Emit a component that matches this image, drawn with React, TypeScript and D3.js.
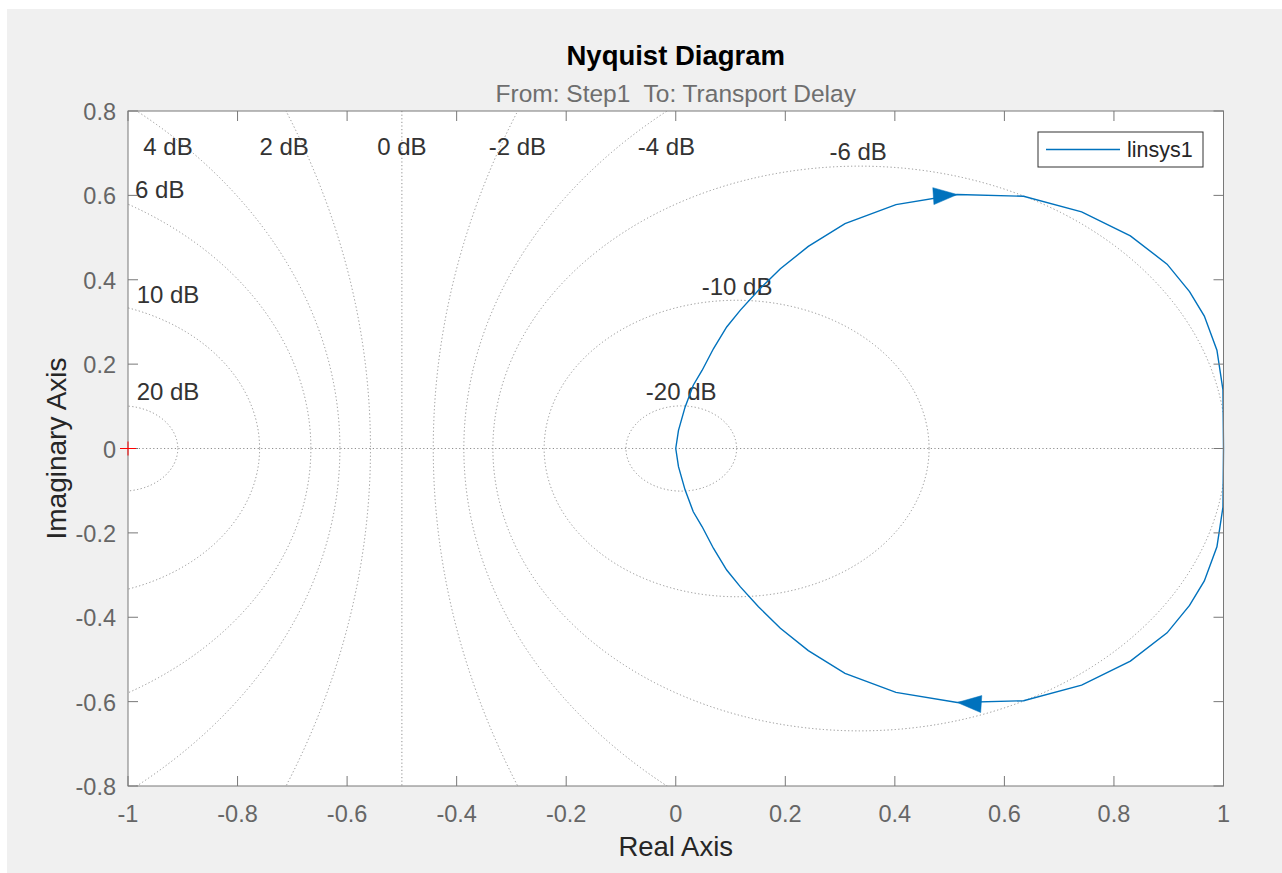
import { useRef, useEffect } from "react";
import * as d3 from "d3";

const xTicks = [-1, -0.8, -0.6, -0.4, -0.2, 0, 0.2, 0.4, 0.6, 0.8, 1];
const yTicks = [-0.8, -0.6, -0.4, -0.2, 0, 0.2, 0.4, 0.6, 0.8];
const xTickLabels = ["-1", "-0.8", "-0.6", "-0.4", "-0.2", "0", "0.2", "0.4", "0.6", "0.8", "1"];
const yTickLabels = ["-0.8", "-0.6", "-0.4", "-0.2", "0", "0.2", "0.4", "0.6", "0.8"];

// constant closed-loop magnitude contours (M-circles)
const gridDb = [20, 10, 6, 4, 2, 0, -2, -4, -6, -10, -20];
const gridLabels = ["20 dB", "10 dB", "6 dB", "4 dB", "2 dB", "0 dB", "-2 dB", "-4 dB", "-6 dB", "-10 dB", "-20 dB"];
const gridLabelRe = [-0.927, -0.927, -0.942, -0.927, -0.715, -0.5, -0.289, -0.017, 0.333, 0.112, 0.01];
const gridLabelIm = [0.134, 0.366, 0.613, 0.717, 0.717, 0.717, 0.717, 0.717, 0.703, 0.385, 0.136];

// linsys1 response, upper half (origin -> 1), lower half is its mirror
const upperRe = [0.0, 0.005, 0.017, 0.032, 0.048, 0.069, 0.093, 0.118, 0.151, 0.191, 0.242, 0.309, 0.402, 0.514, 0.635, 0.741, 0.83, 0.897, 0.938, 0.965, 0.988, 0.999, 1.0];
const upperIm = [0.0, 0.043, 0.098, 0.15, 0.185, 0.237, 0.288, 0.328, 0.375, 0.426, 0.479, 0.533, 0.578, 0.602, 0.598, 0.561, 0.504, 0.437, 0.372, 0.314, 0.233, 0.139, 0.0];
const arrowIndex = 13;

const seriesName = "linsys1";
const blue = "#0072bd";

export default function App() {
  const svgRef = useRef<SVGSVGElement>(null);

  useEffect(() => {
    if (!svgRef.current) return;
    const svg = d3.select(svgRef.current);
    svg.selectAll("*").remove();

    const width = 1282;
    const height = 873;
    const left = 128;
    const right = 1223.5;
    const top = 111;
    const bottom = 786;
    const font = "'Liberation Sans', Arial, Helvetica, sans-serif";
    const axisColor = "#787878";

    const x = d3.scaleLinear().domain([-1, 1]).range([left, right]);
    const y = d3.scaleLinear().domain([-0.8, 0.8]).range([bottom, top]);

    // figure background
    svg.append("rect").attr("x", 7).attr("y", 9).attr("width", width - 7).attr("height", height - 9).attr("fill", "#f0f0f0");

    svg.append("rect").attr("x", left).attr("y", top).attr("width", right - left).attr("height", bottom - top).attr("fill", "#ffffff");

    svg.append("defs").append("clipPath").attr("id", "plotClip")
      .append("rect").attr("x", left).attr("y", top).attr("width", right - left).attr("height", bottom - top);

    const grid = svg.append("g").attr("clip-path", "url(#plotClip)");
    const dotted = (sel: any) =>
      sel.attr("fill", "none").attr("stroke", "#8f8f8f").attr("stroke-width", 1).attr("stroke-dasharray", "1.2,2.4");

    gridDb.forEach((db) => {
      const m = Math.pow(10, db / 20);
      if (db === 0) {
        grid.append("line").attr("x1", x(-0.5)).attr("x2", x(-0.5)).attr("y1", top).attr("y2", bottom).call(dotted);
        return;
      }
      const c = -(m * m) / (m * m - 1);
      const r = Math.abs(m / (m * m - 1));
      grid.append("ellipse")
        .attr("cx", x(c)).attr("cy", y(0))
        .attr("rx", x(c + r) - x(c)).attr("ry", y(0) - y(r))
        .call(dotted);
    });
    grid.append("line").attr("x1", left).attr("x2", right).attr("y1", y(0)).attr("y2", y(0)).call(dotted);

    // dB labels
    svg.append("g").selectAll("text").data(gridLabels).join("text")
      .attr("x", (_, i) => x(gridLabelRe[i]))
      .attr("y", (_, i) => y(gridLabelIm[i]))
      .attr("text-anchor", "middle")
      .attr("dominant-baseline", "central")
      .attr("font-family", font).attr("font-size", "24px").attr("fill", "#333333")
      .text((d) => d);

    // Nyquist curve
    const pts: [number, number][] = upperRe.map((r, i) => [r, upperIm[i]]);
    const lower: [number, number][] = pts.slice().reverse().map(([r, im]) => [r, -im]);
    const all = pts.concat(lower.slice(1));
    const line = d3.line<[number, number]>().x((d) => x(d[0])).y((d) => y(d[1]));
    svg.append("path").datum(all).attr("d", line).attr("fill", "none").attr("stroke", blue).attr("stroke-width", 1.4);

    // direction arrows
    const arrow = (tip: [number, number], from: [number, number], to: [number, number]) => {
      const tx = x(tip[0]), ty = y(tip[1]);
      let dx = x(to[0]) - x(from[0]);
      let dy = y(to[1]) - y(from[1]);
      const len = Math.hypot(dx, dy);
      dx /= len; dy /= len;
      const bx = tx - dx * 24, by = ty - dy * 24;
      const px = -dy * 8.5, py = dx * 8.5;
      svg.append("path")
        .attr("d", `M${tx},${ty}L${bx + px},${by + py}L${bx - px},${by - py}Z`)
        .attr("fill", blue).attr("stroke", blue).attr("stroke-width", 0.5);
    };
    const a = pts[arrowIndex], aPrev = pts[arrowIndex - 1], aNext = pts[arrowIndex + 1];
    arrow(a, aPrev, aNext);
    arrow([a[0], -a[1]], [aNext[0], -aNext[1]], [aPrev[0], -aPrev[1]]);

    // axes box and ticks
    svg.append("rect").attr("x", left).attr("y", top).attr("width", right - left).attr("height", bottom - top)
      .attr("fill", "none").attr("stroke", axisColor).attr("stroke-width", 1);
    const ticks = svg.append("g").attr("stroke", axisColor).attr("stroke-width", 1);
    xTicks.forEach((t) => {
      ticks.append("line").attr("x1", x(t)).attr("x2", x(t)).attr("y1", bottom).attr("y2", bottom - 10);
      ticks.append("line").attr("x1", x(t)).attr("x2", x(t)).attr("y1", top).attr("y2", top + 10);
    });
    yTicks.forEach((t) => {
      ticks.append("line").attr("x1", left).attr("x2", left + 10).attr("y1", y(t)).attr("y2", y(t));
      ticks.append("line").attr("x1", right).attr("x2", right - 10).attr("y1", y(t)).attr("y2", y(t));
    });

    // critical point
    svg.append("g").attr("stroke", "#ff0000").attr("stroke-width", 1)
      .call((g) => {
        g.append("line").attr("x1", x(-1) - 8).attr("x2", x(-1) + 8).attr("y1", y(0)).attr("y2", y(0));
        g.append("line").attr("x1", x(-1)).attr("x2", x(-1)).attr("y1", y(0) - 7).attr("y2", y(0) + 7);
      });

    // tick labels
    svg.append("g").selectAll("text").data(xTicks).join("text")
      .attr("x", (d) => x(d)).attr("y", bottom + 36)
      .attr("text-anchor", "middle")
      .attr("font-family", font).attr("font-size", "23.5px").attr("fill", "#666666")
      .text((_, i) => xTickLabels[i]);
    svg.append("g").selectAll("text").data(yTicks).join("text")
      .attr("x", left - 12).attr("y", (d) => y(d) + 1)
      .attr("text-anchor", "end").attr("dominant-baseline", "central")
      .attr("font-family", font).attr("font-size", "23.5px").attr("fill", "#666666")
      .text((_, i) => yTickLabels[i]);

    // legend
    const lg = svg.append("g");
    lg.append("rect").attr("x", 1038).attr("y", 132).attr("width", 165).attr("height", 35)
      .attr("fill", "#ffffff").attr("stroke", "#333333").attr("stroke-width", 1);
    lg.append("line").attr("x1", 1046).attr("x2", 1120).attr("y1", 149.5).attr("y2", 149.5)
      .attr("stroke", blue).attr("stroke-width", 1.4);
    lg.append("text").attr("x", 1127).attr("y", 150).attr("dominant-baseline", "central")
      .attr("font-family", font).attr("font-size", "21.5px").attr("fill", "#262626").text(seriesName);

    // titles
    const cx = (left + right) / 2;
    svg.append("text").attr("x", cx).attr("y", 65).attr("text-anchor", "middle")
      .attr("font-family", font).attr("font-size", "27.5px").attr("font-weight", "bold").attr("fill", "#000000")
      .text("Nyquist Diagram");
    svg.append("text").attr("x", cx).attr("y", 102).attr("text-anchor", "middle")
      .style("white-space", "pre")
      .attr("font-family", font).attr("font-size", "24.5px").attr("fill", "#6e6e6e")
      .text("From: Step1  To: Transport Delay");
    svg.append("text").attr("x", cx).attr("y", 856).attr("text-anchor", "middle")
      .attr("font-family", font).attr("font-size", "27.5px").attr("fill", "#262626")
      .text("Real Axis");
    svg.append("text").attr("transform", `translate(66,${(top + bottom) / 2}) rotate(-90)`)
      .attr("text-anchor", "middle")
      .attr("font-family", font).attr("font-size", "28px").attr("fill", "#262626")
      .text("Imaginary Axis");
  }, []);

  return (
    <svg
      ref={svgRef}
      width={1282}
      height={873}
      style={{ position: "absolute", left: 0, top: 0, display: "block" }}
    />
  );
}
